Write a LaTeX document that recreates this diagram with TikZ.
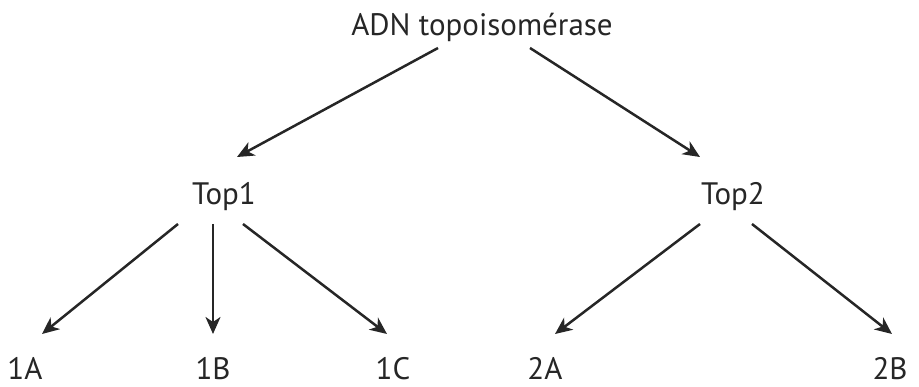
\documentclass[tikz,border=0pt]{standalone}
\usepackage{fontspec}
\setmainfont{PT Sans}
\usetikzlibrary{arrows.meta}
\begin{document}
\begin{tikzpicture}[x=1pt,y=-1pt,
  lbl/.style={anchor=base,inner sep=0pt,font=\fontsize{31}{36}\selectfont,text=black!85},
  arr/.style={line width=2.5pt,draw=black!85,-{Stealth[length=17pt,width=15pt,inset=5pt]}}]
\useasboundingbox (0,0) rectangle (919,387);
\node[lbl] (adn) at (482,36) {ADN topoisomérase};
\node[lbl] (top1) at (224,205) {Top1};
\node[lbl] (top2) at (733,205) {Top2};
\node[lbl] (a1) at (25,380) {1A};
\node[lbl] (b1) at (213,380) {1B};
\node[lbl] (c1) at (393,380) {1C};
\node[lbl] (a2) at (545,380) {2A};
\node[lbl] (b2) at (890,380) {2B};
\draw[arr] ([shift={(-44,12)}]adn.base) -- ([shift={(13,-48)}]top1.base);
\draw[arr] ([shift={(48,12)}]adn.base) -- ([shift={(-33,-48)}]top2.base);
\draw[arr] ([shift={(-46,19)}]top1.base) -- ([shift={(17,-46)}]a1.base);
\draw[arr] ([shift={(-11,19)}]top1.base) -- ([shift={(0,-46)}]b1.base);
\draw[arr] ([shift={(19,19)}]top1.base) -- ([shift={(-6,-46)}]c1.base);
\draw[arr] ([shift={(-33,19)}]top2.base) -- ([shift={(10,-46)}]a2.base);
\draw[arr] ([shift={(19,19)}]top2.base) -- ([shift={(2,-46)}]b2.base);
\end{tikzpicture}
\end{document}
